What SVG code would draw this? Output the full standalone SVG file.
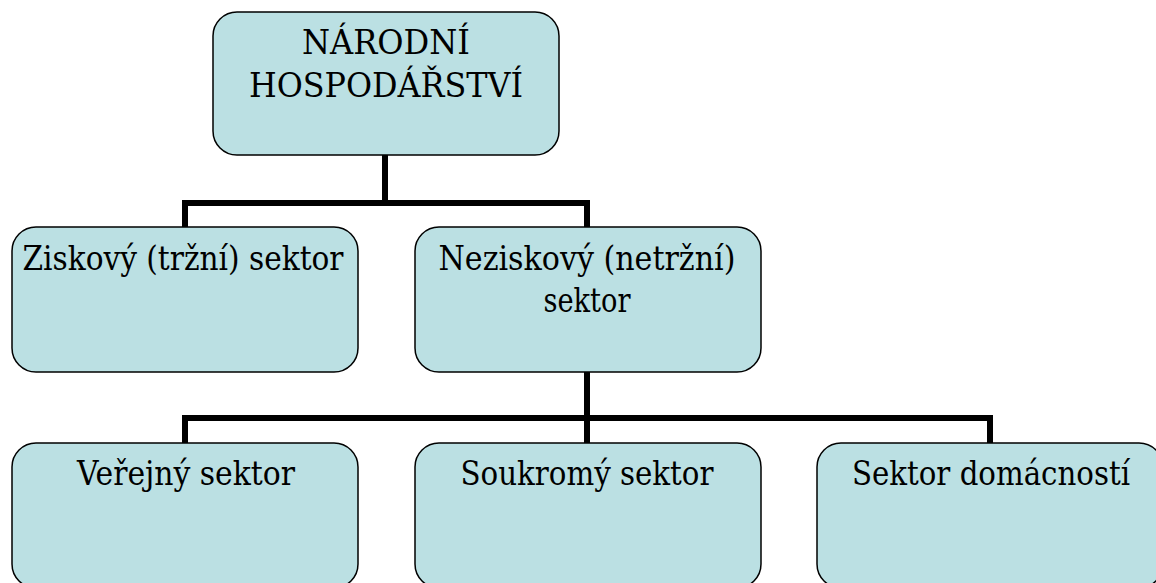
<svg xmlns="http://www.w3.org/2000/svg" width="1156" height="583" viewBox="0 0 1156 583">
<style>
.box{fill:#BBE0E3;stroke:#000;stroke-width:1.5}
.lbl{font-family:"DejaVu Serif",serif;font-stretch:condensed;font-size:33px;fill:#000;text-anchor:middle}
.conn{fill:none;stroke:#000;stroke-width:6;stroke-linejoin:miter;stroke-linecap:butt}
</style>
<rect width="1156" height="583" fill="#fff"/>
<g id="connectors">
<path class="conn" d="M385,155 V203 M185,227 V203 H587 V227"/>
<path class="conn" d="M587,372 V418 M185,443 V418 H990 V443 M587,418 V443"/>
</g>
<g id="narodni">
<rect class="box" x="213" y="12" width="346" height="143" rx="24"/>
<text class="lbl" x="386" y="54" textLength="168" lengthAdjust="spacingAndGlyphs">NÁRODNÍ</text>
<text class="lbl" x="386" y="97" textLength="274" lengthAdjust="spacingAndGlyphs">HOSPODÁŘSTVÍ</text>
</g>
<g id="ziskovy">
<rect class="box" x="12" y="227" width="346" height="145" rx="24"/>
<text class="lbl" x="183" y="270" textLength="321" lengthAdjust="spacingAndGlyphs">Ziskový (tržní) sektor</text>
</g>
<g id="neziskovy">
<rect class="box" x="415" y="227" width="346" height="145" rx="24"/>
<text class="lbl" x="587" y="270" textLength="297" lengthAdjust="spacingAndGlyphs">Neziskový (netržní)</text>
<text class="lbl" x="587" y="312" textLength="87" lengthAdjust="spacingAndGlyphs">sektor</text>
</g>
<g id="verejny">
<rect class="box" x="12" y="443" width="346" height="145" rx="24"/>
<text class="lbl" x="186" y="485" textLength="218" lengthAdjust="spacingAndGlyphs">Veřejný sektor</text>
</g>
<g id="soukromy">
<rect class="box" x="415" y="443" width="346" height="145" rx="24"/>
<text class="lbl" x="587" y="485" textLength="253" lengthAdjust="spacingAndGlyphs">Soukromý sektor</text>
</g>
<g id="domacnosti">
<rect class="box" x="817" y="443" width="346" height="145" rx="24"/>
<text class="lbl" x="991" y="485" textLength="278" lengthAdjust="spacingAndGlyphs">Sektor domácností</text>
</g>
</svg>
